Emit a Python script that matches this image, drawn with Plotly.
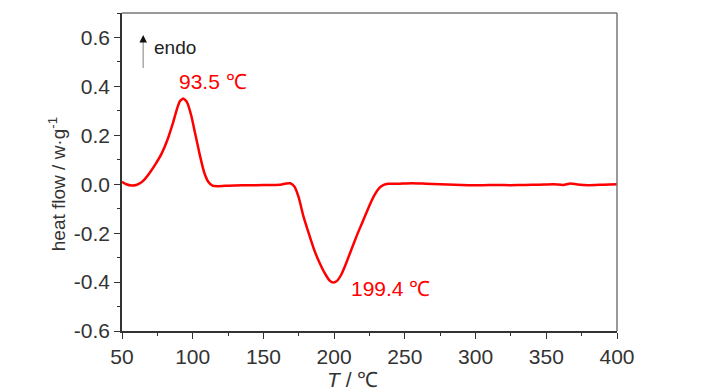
import plotly.graph_objects as go

temperature = [50, 53, 57, 60, 63, 66, 70, 74, 78, 82, 86, 89, 91, 93.5, 96, 99, 102, 105, 108, 111,
               114, 118, 125, 135, 145, 155, 162, 166, 169, 172, 175, 178, 182, 186, 190, 194, 197,
               199.4, 202, 205, 208, 212, 216, 220, 224, 228, 232, 235, 238, 245, 255, 265, 275,
               285, 295, 305, 315, 325, 335, 345, 355, 362, 367, 372, 380, 390, 400]
heat_flow = [0.01, 0.0, -0.005, -0.003, 0.005, 0.02, 0.05, 0.085, 0.125, 0.18, 0.25, 0.31, 0.34,
             0.35, 0.335, 0.28, 0.2, 0.12, 0.05, 0.01,
             -0.006, -0.008, -0.006, -0.004, -0.004, -0.003, -0.002, 0.003, 0.004, -0.01, -0.055,
             -0.125, -0.2, -0.27, -0.325, -0.37, -0.395,
             -0.402, -0.395, -0.37, -0.33, -0.27, -0.21, -0.155, -0.1, -0.05, -0.015, -0.003,
             0.002, 0.002, 0.004, 0.002, 0.0,
             -0.002, -0.004, -0.004, -0.003, -0.004, -0.003, -0.002, 0.0, -0.003, 0.003, -0.001,
             -0.004, -0.002, 0.0]

peak_labels = ["93.5 ℃", "199.4 ℃"]
x_ticks = [50, 100, 150, 200, 250, 300, 350, 400]
y_ticks = [-0.6, -0.4, -0.2, 0.0, 0.2, 0.4, 0.6]

FONT = "Liberation Sans, Arial"

fig = go.Figure()
fig.add_trace(go.Scatter(x=temperature, y=heat_flow, mode="lines",
                         line=dict(color="#ff0000", width=2.5, shape="spline", smoothing=0.5),
                         hoverinfo="skip", showlegend=False))

axis_common = dict(showgrid=False, zeroline=False, showline=True, linecolor="#333333", linewidth=1.5,
                   ticks="outside", ticklen=6, tickwidth=1.2, tickcolor="#333333",
                   tickfont=dict(family=FONT, size=21, color="#333333"))

fig.update_xaxes(range=[50, 400], tickvals=x_ticks, ticktext=[str(v) for v in x_ticks],
                 minor=dict(ticks="outside", ticklen=3, dtick=25, tick0=50, tickcolor="#333333"),
                 **axis_common)
fig.update_yaxes(range=[-0.6, 0.7], tickvals=y_ticks, ticktext=[f"{v:.1f}" for v in y_ticks],
                 minor=dict(ticks="outside", ticklen=3, dtick=0.1, tick0=-0.6, tickcolor="#333333"),
                 **axis_common)

# top & right frame in grey
fig.add_shape(type="line", xref="paper", yref="paper", x0=0, x1=1, y0=1, y1=1,
              line=dict(color="#777777", width=1.5))
fig.add_shape(type="line", xref="paper", yref="paper", x0=1, x1=1, y0=0, y1=1,
              line=dict(color="#777777", width=1.5))

# endo arrow
fig.add_shape(type="line", x0=65, x1=65, y0=0.475, y1=0.59, line=dict(color="#aaaaaa", width=1.5))
fig.add_annotation(x=65, y=0.61, ax=65, ay=0.585, xref="x", yref="y", axref="x", ayref="y",
                   text="", showarrow=True, arrowhead=2, arrowsize=1, arrowwidth=1.5, arrowcolor="#111111")
fig.add_annotation(x=71, y=0.557, text="endo", showarrow=False, xanchor="left", yanchor="middle",
                   font=dict(family=FONT, size=19, color="#222222"))

fig.add_annotation(x=114.4, y=0.418, text=peak_labels[0], showarrow=False, xanchor="center", yanchor="middle",
                   font=dict(family=FONT, size=21, color="#ff0000"))
fig.add_annotation(x=239.5, y=-0.426, text=peak_labels[1], showarrow=False, xanchor="center", yanchor="middle",
                   font=dict(family=FONT, size=21, color="#ff0000"))

fig.add_annotation(xref="paper", yref="paper", x=-0.131, y=0.462, text="heat flow / w·g<sup>-1</sup>",
                   textangle=-90, showarrow=False, xanchor="center", yanchor="middle",
                   font=dict(family=FONT, size=19, color="#333333"))
fig.add_annotation(xref="paper", yref="paper", x=0.465, y=-0.154, text="<i>T</i> / ℃",
                   showarrow=False, xanchor="center", yanchor="middle",
                   font=dict(family=FONT, size=21, color="#333333"))

fig.update_layout(width=720, height=382, margin=dict(l=114, r=111, t=5, b=59, autoexpand=False),
                  plot_bgcolor="white", paper_bgcolor="white")

fig.write_html("out.html")
